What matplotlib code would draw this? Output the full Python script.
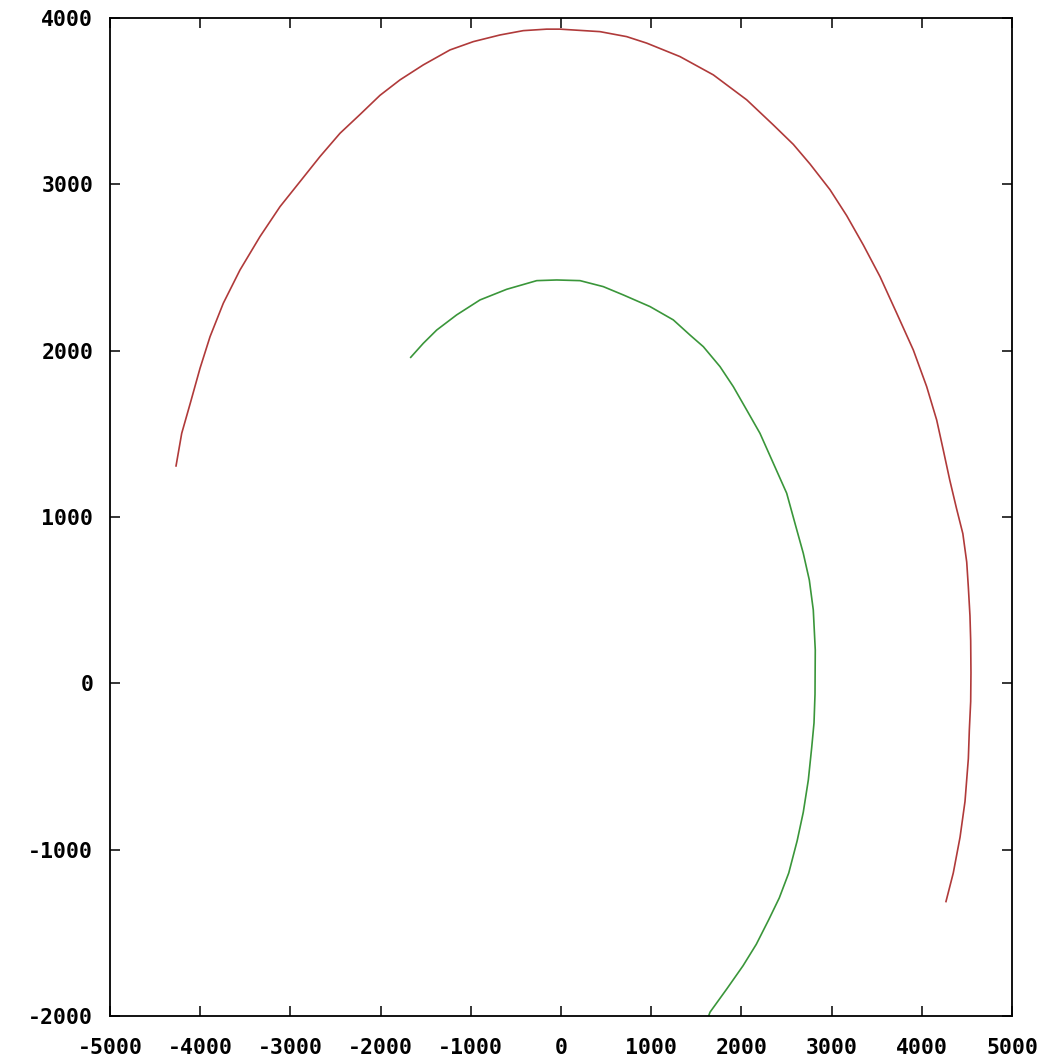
import matplotlib
matplotlib.use('Agg')
from matplotlib import pyplot as plt

# orbit traces
outer_x = [-4268, -4205, -4110, -4002, -3891, -3744, -3559, -3337, -3115, -2894,
           -2672, -2450, -2228, -2007, -1785, -1527, -1231, -972, -676, -418,
           -159, -11, 432, 728, 950, 1319, 1689, 2059, 2354, 2576,
           2761, 2982, 3167, 3352, 3537, 3722, 3906, 4054, 4165, 4238,
           4310, 4385, 4455, 4498, 4516, 4534, 4542, 4545, 4542, 4527,
           4516, 4479, 4424, 4349, 4268]
outer_y = [1307, 1503, 1684, 1894, 2084, 2285, 2485, 2686, 2866, 3016,
           3167, 3307, 3420, 3535, 3628, 3718, 3808, 3858, 3898, 3924,
           3933, 3933, 3918, 3888, 3849, 3768, 3658, 3508, 3357, 3240,
           3122, 2968, 2812, 2635, 2445, 2225, 2004, 1784, 1583, 1403,
           1222, 1051, 900, 729, 578, 406, 256, 63, -109, -281,
           -453, -710, -925, -1140, -1312]

inner_x = [-1666, -1527, -1378, -1157, -898, -602, -269, -48, 211, 469,
           691, 987, 1245, 1430, 1578, 1763, 1910, 2059, 2206, 2354,
           2502, 2594, 2686, 2753, 2797, 2819, 2816, 2805, 2779, 2742,
           2686, 2618, 2525, 2420, 2305, 2165, 2018, 1837, 1652, 1630]
inner_y = [1960, 2044, 2124, 2215, 2305, 2369, 2421, 2425, 2421, 2385,
           2335, 2265, 2185, 2094, 2024, 1904, 1784, 1643, 1503, 1323,
           1143, 962, 782, 621, 441, 200, -66, -238, -388, -581,
           -775, -947, -1140, -1290, -1419, -1569, -1698, -1838, -1977, -2010]

x_ticks = [-5000, -4000, -3000, -2000, -1000, 0, 1000, 2000, 3000, 4000, 5000]
y_ticks = [-2000, -1000, 0, 1000, 2000, 3000, 4000]

fig = plt.figure(figsize=(10.49, 10.64), dpi=100)
ax = fig.add_axes([110 / 1049, 1 - 1016 / 1064, 902 / 1049, 998 / 1064])

ax.plot(outer_x, outer_y, color='#b03a3a', linewidth=1.2)
ax.plot(inner_x, inner_y, color='#3a963a', linewidth=1.2)

ax.set_xlim(-5000, 5000)
ax.set_ylim(-2000, 4000)
ax.set_xticks(x_ticks)
ax.set_yticks(y_ticks)
ax.set_xticklabels([str(v) for v in x_ticks])
ax.set_yticklabels([str(v) for v in y_ticks])

for lab in ax.get_xticklabels() + ax.get_yticklabels():
    lab.set_fontfamily('DejaVu Sans Mono')
    lab.set_fontweight('bold')
    lab.set_fontsize(15.5)

ax.tick_params(axis='both', direction='in', length=7, width=1.1,
               top=True, right=True, color='black')
ax.tick_params(axis='x', pad=16)
ax.tick_params(axis='y', pad=12)
for spine in ax.spines.values():
    spine.set_linewidth(1.3)
    spine.set_color('black')

fig.savefig('out.png', dpi=100, facecolor='white')
